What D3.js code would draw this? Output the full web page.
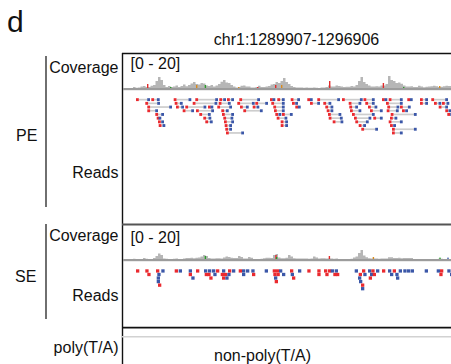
<!DOCTYPE html>
<html>
<head>
<meta charset="utf-8">
<script src="https://cdn.jsdelivr.net/npm/d3@7"></script>
<style>
  body { margin: 0; background: #fff; }
  svg { display: block; font-family: "Liberation Sans", Arial, sans-serif; }
</style>
</head>
<body>
<svg id="chart" width="451" height="364"></svg>
<script>
// region shown
const chrom = "chr1";
const regionStart = 1289907;
const regionEnd = 1296906;
const covRange = [0, 20];
const binSize = 50; // bp per coverage bin

// coverage per 50bp bin (from region start)
const peCoverage = [0.2,0.4,0.3,0.5,1,0.6,0.8,1.2,1.5,1,1,1.6,2,4,6,4.5,2,1,1.5,1,1.3,1.8,1,1.5,2.2,1.4,2,2.8,3.5,2.5,2.2,3,2.8,1.8,1.5,2,1.3,1.8,2.5,3.6,4.5,3.2,3,2,1.2,0.8,1,1.6,1.8,1.2,1.2,0.8,0.7,1,1.6,1,1,1.3,1.5,2.2,2.5,3.5,3,4,5.5,3.5,2.5,1.5,1,0.7,0.7,0.8,0.6,0.8,0.6,0.6,0.8,0.6,0.5,0.7,0.7,1,1.8,1.2,1.3,1.7,1.5,1.3,1,1.1,1.1,1.5,1.3,2,4,6,3.5,2.5,1.8,1.2,1.2,1.4,1.3,1.7,1.8,2.5,6.5,4.5,4,3,3.2,2.6,1.7,1.3,1.2,1.4,1,1,1.6,1.3,0.9,1.1,1.2,1.4,1.6,1.4,1,1.1,1.4,1.6,1.5,1.5];
const seCoverage = [0,0,0,0.3,0.6,0.4,0.2,0.4,1,0.6,0.3,0.3,1,2,3.3,2.5,0.8,0.6,0.5,0.5,0.6,0.8,0.5,0.5,0.7,1,1,1.1,0.9,1.1,1.3,1.8,2.5,2,1,0.7,0.7,0.9,0.9,0.7,1.3,1.7,1.5,1.1,1,1,2,1.5,0.8,0.8,1.5,1.1,0.5,0.5,0.5,0.6,0.9,1.1,1.1,1,2.5,3,1.2,0.9,0.9,1.1,2.5,1.8,0.9,0.7,0.8,0.8,0.7,0.7,0.6,0.8,1.7,1.3,0.8,0.9,0.9,0.7,0.7,0.7,0.6,0.7,0.4,0.4,0.4,0.5,0.5,0.6,1.2,1.8,3.5,5,2.2,1.4,0.9,0.7,0.7,0.7,0.6,0.8,0.7,0.7,1.4,1.4,1,1,1.1,0.9,1,1,1,1,0.5,0.5,0.5,0.5,0.5,0.5,0.5,0.5,0.5,0.5,0.6,0.6,0.5,0.5,0.5,0.5];

// mismatch bars in coverage: [position bp, base, count]
const peMismatch = [[480,"T",2.5],[940,"A",1],[1460,"G",2],[1634,"A",2],[2300,"G",1],[2680,"T",1],[3040,"T",2],[3160,"G",2],[4120,"T",4],[5194,"T",3],[5600,"A",1],[6320,"G",1.5]];
const seMismatch = [[1634,"A",2],[3046,"T",2.5],[3060,"A",1.5],[4114,"T",2],[4994,"G",1.5],[6326,"A",1.2],[6486,"C",1.2]];

// paired-end fragments: [row, start of read 1, end of mate]
const pePairs = [
  [0,260,540],[0,566,734],[0,1014,1366],[0,1446,1900],[0,1926,2060],[0,2080,2220],[0,2326,2740],[0,2940,3046],[0,3086,3234],[0,3354,3540],[0,3686,3794],[0,3886,4340],[0,4380,4794],[0,4810,5034],[0,5180,5286],[0,5314,5594],[0,5686,5794],[0,5940,6100],[0,6166,6500],
  [1,446,740],[1,1034,1194],[1,1394,1886],[1,1914,2154],[1,2286,2634],[1,2646,2900],[1,2966,3234],[1,3380,3500],[1,3740,3940],[1,4006,4166],[1,4514,4766],[1,4846,5034],[1,5260,5594],[1,5940,6100],[1,6220,6366],[1,6380,6526],
  [2,486,980],[2,1060,1220],[2,1246,1666],[2,1700,1806],[2,1886,2180],[2,2340,2514],[2,2594,2726],[2,3006,3234],[2,3446,3554],[2,4046,4206],[2,4526,4700],[2,4900,5086],[2,5286,5526],[2,5540,5754],[2,6314,6500],
  [3,486,700],[3,1194,1420],[3,1460,1820],[3,1966,2114],[3,2406,2794],[3,3020,3234],[3,4074,4206],[3,4540,4766],[3,4940,5194],[3,5274,5514],[3,5580,5700],[3,6446,6566],
  [4,646,820],[4,1526,1754],[4,1980,2220],[4,3046,3166],[4,3180,3394],[4,4100,4366],[4,4580,5034],[4,5354,5874],[4,6486,6600],
  [5,674,766],[5,1606,1766],[5,2006,2206],[5,3074,3286],[5,4114,4394],[5,4620,4966],[5,5006,5194],[5,5340,5486],
  [6,700,820],[6,1646,1794],[6,2020,2220],[6,3154,3300],[6,4194,4406],[6,4646,4914],[6,5314,5594],
  [7,714,846],[7,2034,2180],[7,3154,3300],[7,4714,4860],[7,5340,5460],
  [8,2046,2180],[8,4766,5100],[8,5380,5874],
  [9,2060,2420],[9,5380,5594]
];

// single-end reads: [row, start, strand]
const seReads = [
  [0,260,"+"],[0,446,"+"],[0,660,"+"],[0,766,"-"],[0,1034,"+"],[0,1114,"-"],[0,1314,"-"],[0,1460,"+"],[0,1620,"-"],[0,1700,"-"],[0,1780,"-"],[0,1860,"+"],[0,1980,"-"],[0,2100,"+"],[0,2180,"-"],[0,2314,"+"],[0,2380,"-"],[0,2460,"-"],[0,2566,"-"],[0,2834,"-"],[0,2994,"+"],[0,3060,"+"],[0,3120,"-"],[0,3340,"+"],[0,3500,"-"],[0,3686,"+"],[0,3886,"+"],[0,4020,"+"],[0,4100,"+"],[0,4154,"-"],[0,4234,"-"],[0,4634,"-"],[0,4780,"+"],[0,4900,"-"],[0,4966,"+"],[0,5060,"-"],[0,5180,"+"],[0,5300,"-"],[0,5394,"+"],[0,5514,"-"],[0,5606,"-"],[0,5680,"-"],[0,5754,"-"],[0,6034,"-"],[0,6274,"-"],[0,6340,"+"],[0,6486,"-"],
  [1,486,"+"],[1,686,"-"],[1,1314,"+"],[1,1634,"+"],[1,1686,"+"],[1,1806,"-"],[1,1954,"+"],[1,2020,"+"],[1,2086,"-"],[1,2380,"-"],[1,2580,"+"],[1,3006,"+"],[1,3070,"+"],[1,3180,"-"],[1,3354,"-"],[1,3886,"+"],[1,4046,"+"],[1,4206,"+"],[1,4260,"+"],[1,4714,"+"],[1,4806,"-"],[1,4940,"-"],[1,4994,"+"],[1,5340,"-"],[1,5446,"-"],[1,6326,"+"],[1,6540,"-"],
  [2,674,"-"],[2,1366,"-"],[2,1726,"+"],[2,1980,"+"],[2,2046,"-"],[2,3020,"-"],[2,3380,"+"],[2,4700,"-"],[2,4914,"+"],[2,5460,"-"],
  [3,674,"-"],[3,3034,"+"],[3,4720,"-"],
  [4,700,"+"],[4,4760,"+"],
  [5,4760,"-"]
];

const peReadLen = 56;
const seReadLen = 66;

const strandColor = { "+": "#ea2a2f", "-": "#3b57a8" };
const baseColor = { A: "#2a9d2a", C: "#3b57a8", G: "#d98a1c", T: "#e22a2a" };

const svg = d3.select("#chart");
const x = d3.scaleLinear().domain([0, regionEnd - regionStart + 1]).range([123, 473]);

// text labels
function label(t, xx, yy, anchor, size) {
  svg.append("text").attr("x", xx).attr("y", yy)
    .attr("text-anchor", anchor || "start")
    .attr("font-size", size || 16)
    .attr("fill", "#111")
    .text(t);
}
label("d", 7, 32, "start", 30);
label(`${chrom}:${regionStart}-${regionEnd}`, 296.5, 45, "middle", 16);

label("Coverage", 118.5, 73, "end");
label("Reads", 118.5, 178, "end");
label("PE", 16, 141, "start");
label("Coverage", 118.5, 241, "end");
label("Reads", 118.5, 301, "end");
label("SE", 15, 282, "start");
label("poly(T/A)", 118.5, 352.5, "end");
label("non-poly(T/A)", 262.5, 360.5, "middle");

label(`[${covRange[0]} - ${covRange[1]}]`, 130.5, 68.5);
label(`[${covRange[0]} - ${covRange[1]}]`, 130.5, 242.5);

// brackets
svg.append("line").attr("x1", 46).attr("x2", 46).attr("y1", 56).attr("y2", 207)
  .attr("stroke", "#222").attr("stroke-width", 1.3);
svg.append("line").attr("x1", 46).attr("x2", 46).attr("y1", 224).attr("y2", 319)
  .attr("stroke", "#222").attr("stroke-width", 1.3);

// panel frame
svg.append("line").attr("x1", 122).attr("x2", 451).attr("y1", 53.5).attr("y2", 53.5)
  .attr("stroke", "#111").attr("stroke-width", 1.4);
svg.append("line").attr("x1", 122.5).attr("x2", 122.5).attr("y1", 53).attr("y2", 364)
  .attr("stroke", "#111").attr("stroke-width", 1.4);
svg.append("line").attr("x1", 122).attr("x2", 451).attr("y1", 224.5).attr("y2", 224.5)
  .attr("stroke", "#555").attr("stroke-width", 1.8);
svg.append("line").attr("x1", 122).attr("x2", 451).attr("y1", 327.7).attr("y2", 327.7)
  .attr("stroke", "#111").attr("stroke-width", 1.8);
svg.append("line").attr("x1", 122).attr("x2", 451).attr("y1", 336.8).attr("y2", 336.8)
  .attr("stroke", "#d2d2d2").attr("stroke-width", 1.4);

function drawCoverage(values, mism, baseY) {
  const y = d3.scaleLinear().domain(covRange).range([baseY, baseY - 40]);
  const pts = values.map((v, i) => [i * binSize, v]);
  pts.push([values.length * binSize, values[values.length - 1]]);
  const area = d3.area().curve(d3.curveStepAfter)
    .x(d => x(d[0])).y0(baseY).y1(d => y(d[1]));
  svg.append("path").datum(pts).attr("d", area).attr("fill", "#b6b6b6");

  svg.append("g").selectAll("rect").data(mism).join("rect")
    .attr("x", d => x(d[0]))
    .attr("width", 1.4)
    .attr("y", d => y(d[2]))
    .attr("height", d => baseY - y(d[2]))
    .attr("fill", d => baseColor[d[1]]);

  svg.append("rect").attr("x", 123).attr("width", 328).attr("y", baseY - 1).attr("height", 2.2)
    .attr("fill", "#9c9c9c");
}
drawCoverage(peCoverage, peMismatch, 89);
drawCoverage(seCoverage, seMismatch, 260);

// paired-end reads
const peRow = d3.scaleLinear().domain([0, 1]).range([98.2, 101.9]);
const peH = 2.9;
const pe = svg.append("g");
pe.selectAll("rect.link").data(pePairs).join("rect").attr("class", "link")
  .attr("x", d => x(d[1] + peReadLen))
  .attr("width", d => Math.max(0, x(d[2] - peReadLen) - x(d[1] + peReadLen)))
  .attr("y", d => peRow(d[0]) + 0.6)
  .attr("height", 1.7)
  .attr("fill", "#cdcdcd");
pe.selectAll("rect.r1").data(pePairs).join("rect").attr("class", "r1")
  .attr("x", d => x(d[1]))
  .attr("width", x(peReadLen) - x(0))
  .attr("y", d => peRow(d[0]))
  .attr("height", peH)
  .attr("fill", strandColor["+"]);
pe.selectAll("rect.r2").data(pePairs).join("rect").attr("class", "r2")
  .attr("x", d => x(d[2] - peReadLen))
  .attr("width", x(peReadLen) - x(0))
  .attr("y", d => peRow(d[0]))
  .attr("height", peH)
  .attr("fill", strandColor["-"]);

// single-end reads
const seRow = d3.scaleLinear().domain([0, 1]).range([269.3, 272.85]);
svg.append("g").selectAll("rect").data(seReads).join("rect")
  .attr("x", d => x(d[1]))
  .attr("width", x(seReadLen) - x(0))
  .attr("y", d => seRow(d[0]))
  .attr("height", 3.3)
  .attr("fill", d => strandColor[d[2]]);
</script>
</body>
</html>
